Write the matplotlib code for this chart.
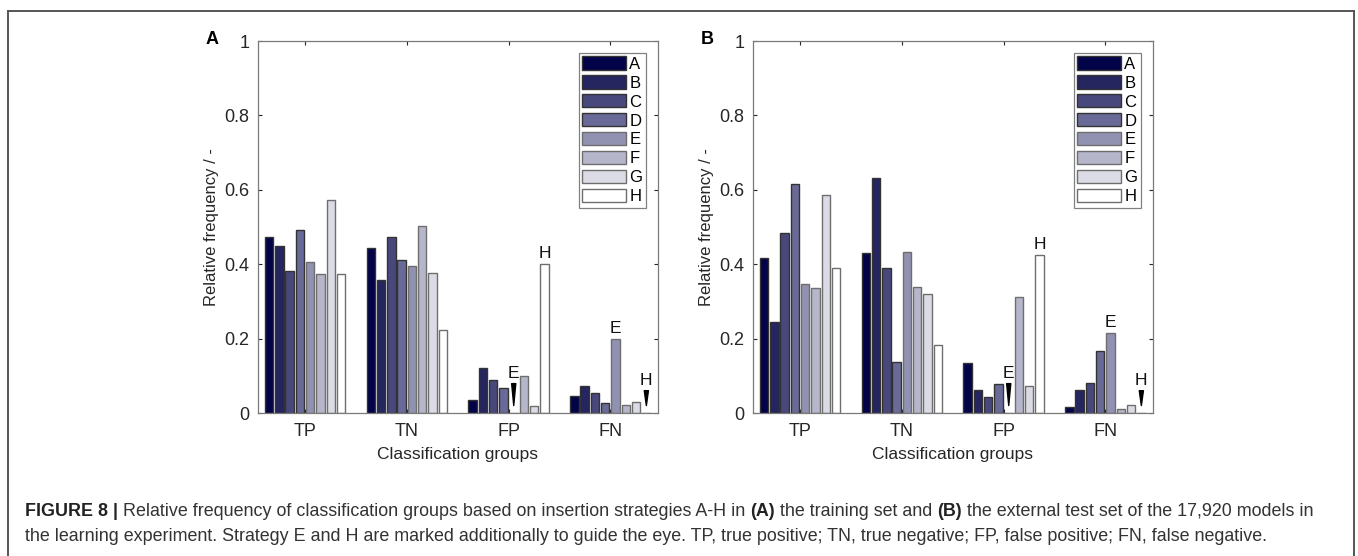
import matplotlib
matplotlib.use("Agg")
import matplotlib.pyplot as plt
import numpy as np
from matplotlib.lines import Line2D

plt.rcParams['font.family'] = ['Liberation Sans', 'DejaVu Sans']

groups = ['TP', 'TN', 'FP', 'FN']
strategies = ['A', 'B', 'C', 'D', 'E', 'F', 'G', 'H']
colors = ['#03034a', '#25255f', '#48487c', '#6a6a98', '#9191b1', '#b6b6cb', '#dbdbe5', '#ffffff']

# rows = strategy A..H, cols = TP, TN, FP, FN
train_vals = [
    [0.473, 0.444, 0.034, 0.047],
    [0.448, 0.358, 0.121, 0.072],
    [0.382, 0.473, 0.090, 0.055],
    [0.492, 0.412, 0.066, 0.028],
    [0.406, 0.395, 0.000, 0.198],
    [0.375, 0.502, 0.100, 0.021],
    [0.572, 0.376, 0.020, 0.030],
    [0.373, 0.223, 0.400, 0.000],
]
test_vals = [
    [0.416, 0.429, 0.135, 0.017],
    [0.245, 0.632, 0.063, 0.062],
    [0.484, 0.390, 0.043, 0.081],
    [0.615, 0.137, 0.078, 0.166],
    [0.348, 0.434, 0.000, 0.215],
    [0.336, 0.340, 0.312, 0.011],
    [0.587, 0.319, 0.072, 0.021],
    [0.390, 0.183, 0.424, 0.000],
]
yticks = [0, 0.2, 0.4, 0.6, 0.8, 1]
yticklabels = ['0', '0.2', '0.4', '0.6', '0.8', '1']
marked_groups = ['FP', 'FN']

fig = plt.figure(figsize=(13.58, 5.56), dpi=100)
W, H = 1358, 556

slot = 0.101
bw = 0.082
axcol = '#262626'


def panel(left_px, vals, letter):
    ax = fig.add_axes([left_px / W, (H - 413) / H, 400 / W, 372 / H])
    x = np.arange(1, len(groups) + 1)
    for i, s in enumerate(strategies):
        ec = '#333333' if i < 4 else '#6e6e6e'
        ax.bar(x + (i - 3.5) * slot, vals[i], width=bw, color=colors[i],
               edgecolor=ec, linewidth=1.0, label=s, zorder=2)
    ax.set_xlim(0.535, 4.465)
    ax.set_ylim(0, 1)
    ax.set_xticks(x)
    ax.set_xticklabels(groups)
    ax.set_yticks(yticks)
    ax.set_yticklabels(yticklabels)
    ax.tick_params(direction='in', length=3, width=0.8, color=axcol,
                   labelsize=13, labelcolor=axcol, top=True, right=True)
    ax.tick_params(axis='x', pad=7)
    ax.tick_params(axis='y', pad=6)
    for sp in ax.spines.values():
        sp.set_color('#7a7a7a')
        sp.set_linewidth(0.9)
    ax.set_ylabel('Relative frequency / -', fontsize=12, color=axcol, labelpad=4)
    ax.set_xlabel('Classification groups', fontsize=12.5, color=axcol, labelpad=5)
    leg = ax.legend(loc='upper right', fontsize=12, handlelength=2.65,
                    handleheight=0.85, labelspacing=0.21, handletextpad=0.18,
                    borderpad=0.22, borderaxespad=0.7, fancybox=False,
                    framealpha=1, edgecolor='#808080')
    leg.get_frame().set_linewidth(0.9)

    # labels over strategy E and H in the FP / FN groups
    iE, iH = strategies.index('E'), strategies.index('H')
    for gi, g in enumerate(groups):
        if g not in marked_groups:
            continue
        for si in (iE, iH):
            v = vals[si][gi]
            xp = x[gi] + (si - 3.5) * slot
            if v > 0.05:
                ax.text(xp, v + 0.008, strategies[si], ha='center', va='bottom',
                        fontsize=12.5, color='#111111')
            elif v < 0.005:
                top = 0.085 if si == iE else 0.066
                ax.text(xp, top, strategies[si], ha='center', va='bottom',
                        fontsize=12.5, color='#111111')
                ax.annotate('', xy=(xp, 0.02), xytext=(xp, top - 0.006),
                            arrowprops=dict(arrowstyle='wedge,tail_width=0.3',
                                            fc='black', ec='black',
                                            shrinkA=0, shrinkB=0,
                                            mutation_scale=10))
    fig.text((left_px - 52) / W, 1 - 40 / H, letter, fontsize=13,
             fontweight='bold', ha='left', va='center', color='black')
    return ax


panel(257.7, train_vals, 'A')
panel(752.7, test_vals, 'B')

# outer frame (open at the bottom)
fc = '#555555'
fig.add_artist(Line2D([8 / W, 8 / W], [-0.02, 1 - 11 / H], transform=fig.transFigure, color=fc, lw=1.4))
fig.add_artist(Line2D([1354 / W, 1354 / W], [-0.02, 1 - 11 / H], transform=fig.transFigure, color=fc, lw=1.4))
fig.add_artist(Line2D([8 / W, 1354 / W], [1 - 11 / H, 1 - 11 / H], transform=fig.transFigure, color=fc, lw=1.4))

# caption
cap1 = [("FIGURE 8 | ", 'bold'),
        ("Relative frequency of classification groups based on insertion strategies A-H in ", 'normal'),
        ("(A)", 'bold'),
        (" the training set and ", 'normal'),
        ("(B)", 'bold'),
        (" the external test set of the 17,920 models in", 'normal')]
cap2 = [("the learning experiment. Strategy E and H are marked additionally to guide the eye. "
         "TP, true positive; TN, true negative; FP, false positive; FN, false negative.", 'normal')]

fig.canvas.draw()
renderer = fig.canvas.get_renderer()


def caption_line(parts, y_px):
    xpos = 25
    for txt, wt in parts:
        t = fig.text(xpos / W, 1 - y_px / H, txt, fontsize=12.9, fontweight=wt,
                     color='#333333' if wt == 'normal' else '#222222',
                     ha='left', va='baseline')
        bb = t.get_window_extent(renderer)
        xpos += bb.width


caption_line(cap1, 516)
caption_line(cap2, 541)

fig.savefig('out.png', dpi=100)
